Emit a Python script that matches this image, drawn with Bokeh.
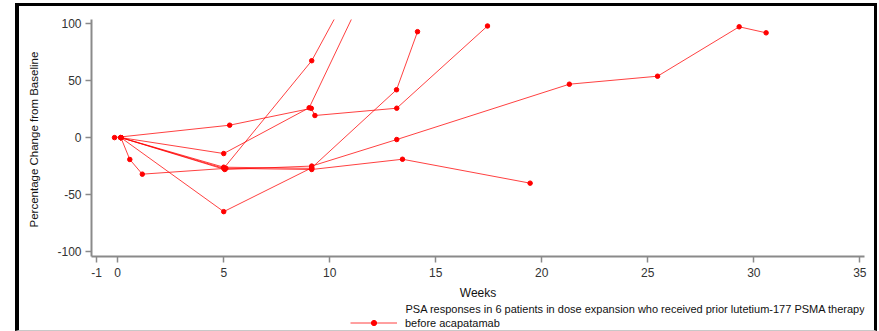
from bokeh.plotting import figure
from bokeh.layouts import column
from bokeh.models import (FixedTicker, Legend, LegendItem, Label, Range1d)
from bokeh.embed import file_html
from bokeh.resources import INLINE

# ---- data (weeks, percentage change from baseline) ----
p1_weeks = [0.15, 5.0, 9.15, 13.15, 14.14]
p1_pct = [0, -65, -26.5, 42, 93]
p2_weeks = [-0.15, 5.28, 9.13, 9.3, 13.16, 17.44]
p2_pct = [0, 10.9, 25.7, 19.4, 25.8, 98]
p3_weeks = [0.15, 5.0, 9.03, 13.1]
p3_pct = [0, -14, 26.2, 185]
p4_weeks = [0.15, 5.0, 9.15, 13.1]
p4_pct = [0, -27, 67.5, 203]
p5_weeks = [0.15, 5.05, 9.15, 13.16, 21.3, 25.46, 29.31, 30.58]
p5_pct = [0, -28, -25, -1.7, 46.9, 53.9, 97.3, 92]
p6_weeks = [0.15, 0.57, 1.16, 5.1, 9.15, 13.43, 19.45]
p6_pct = [0, -19.2, -32.1, -27, -28, -19, -40]
p7_weeks = [0.15, 5.0, 9.15]
p7_pct = [0, -26, -27]

series = [(p1_weeks, p1_pct), (p2_weeks, p2_pct), (p3_weeks, p3_pct),
          (p4_weeks, p4_pct), (p5_weeks, p5_pct), (p6_weeks, p6_pct),
          (p7_weeks, p7_pct)]

x_ticks = [-1, 0, 5, 10, 15, 20, 25, 30, 35]
y_ticks = [-100, -50, 0, 50, 100]
x_title = "Weeks"
y_title = "Percentage Change from  Baseline"
legend_line1 = "PSA responses in 6 patients in dose expansion who received prior lutetium-177 PSMA therapy"
legend_line2 = "before acapatamab"

FONT = "Liberation Sans"
RED = "#ff0000"

# ---------------- main chart ----------------
p = figure(width=855, height=296, output_backend="svg", toolbar_location=None,
           x_range=Range1d(-1.236, 35.22), y_range=Range1d(-104.4, 103.7),
           min_border_left=72, min_border_right=10, min_border_top=13,
           min_border_bottom=10)
p.outline_line_color = None
p.xgrid.visible = False
p.ygrid.visible = False
p.background_fill_color = "white"
p.border_fill_color = "white"

for wk, pc in series:
    p.line(wk, pc, line_color=RED, line_width=1, line_alpha=0.75)
    p.scatter(wk, pc, marker="circle", size=4.5, fill_color=RED, line_color=RED)

for ax in (p.xaxis[0], p.yaxis[0]):
    ax.axis_line_color = "#8a8a8a"
    ax.axis_line_width = 2
    ax.major_tick_line_color = "#8a8a8a"
    ax.major_tick_line_width = 1.5
    ax.major_tick_out = 6
    ax.major_tick_in = 0
    ax.minor_tick_out = 0
    ax.minor_tick_in = 0
    ax.major_label_text_font = FONT
    ax.major_label_text_font_size = "12px"
    ax.major_label_text_color = "#333333"
    ax.axis_label_text_font = FONT
    ax.axis_label_text_font_style = "normal"
    ax.axis_label_text_color = "#111111"

p.xaxis.ticker = FixedTicker(ticks=x_ticks)
p.yaxis.ticker = FixedTicker(ticks=y_ticks)
p.xaxis.major_label_overrides = {t: str(t) for t in x_ticks}
p.yaxis.major_label_overrides = {t: str(t) for t in y_ticks}
p.xaxis.axis_label = x_title
p.yaxis.axis_label = y_title
p.xaxis.axis_label_text_font_size = "12px"
p.yaxis.axis_label_text_font_size = "11.5px"
p.xaxis.major_label_standoff = 5
p.yaxis.major_label_standoff = 4
p.xaxis.axis_label_standoff = 6
p.yaxis.axis_label_standoff = 14

# ---------------- legend strip ----------------
# legend proxy: same first-patient series, drawn far outside this strip's view
LW, LH = 855, 28
lp = figure(width=LW, height=LH, output_backend="svg", toolbar_location=None,
            x_range=Range1d(1000, 1001), y_range=Range1d(1000, 1001),
            min_border=0, outline_line_color=None)
lp.axis.visible = False
lp.grid.visible = False
lr = lp.line(p1_weeks, p1_pct, line_color=RED, line_width=1, line_alpha=0.75)
sr = lp.scatter(p1_weeks, p1_pct, marker="circle", size=4.5,
                fill_color=RED, line_color=RED)

legend = Legend(items=[LegendItem(label=legend_line2, renderers=[lr, sr])],
                location=(259, 1), orientation="vertical",
                glyph_width=47, glyph_height=13, label_height=13,
                label_standoff=8, padding=0, margin=0, spacing=0,
                border_line_color=None, background_fill_alpha=0,
                label_text_font=FONT, label_text_font_size="11px",
                label_text_color="#111111")
lp.add_layout(legend, "center")
lp.add_layout(Label(x=314, y=LH - 6, x_units="screen", y_units="screen",
                    text=legend_line1, text_font=FONT, text_font_size="11px",
                    text_color="#111111", text_baseline="middle", text_align="left"))

layout = column(p, lp, spacing=0,
                styles={"border-left": "4px solid black", "border-top": "3px solid black",
                        "border-right": "3px solid black",
                        "border-bottom": "1px solid #c8c8c8",
                        "margin-left": "15px", "margin-top": "3px"})

open("out.html", "w").write(file_html(layout, INLINE))
